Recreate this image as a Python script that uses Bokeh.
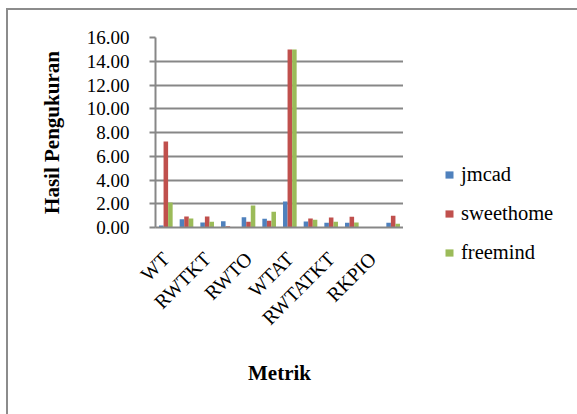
from bokeh.plotting import figure
from bokeh.layouts import row
from bokeh.models import (ColumnDataSource, FixedTicker, Legend, LegendItem,
                          NumeralTickFormatter, Range1d)
from bokeh.transform import dodge
from bokeh.embed import file_html
from bokeh.resources import INLINE

# Metric groups (12 positions; only every other one carries a visible label)
groups = [1, 2, 3, 4, 5, 6, 7, 8, 9, 10, 11, 12]
label_positions = [1, 3, 5, 7, 9, 11]
metric_labels = ["WT", "RWTKT", "RWTO", "WTAT", "RWTATKT", "RKPIO"]

series_names = ["jmcad", "sweethome", "freemind"]
jmcad = [0.17, 0.70, 0.42, 0.53, 0.87, 0.73, 2.19, 0.50, 0.39, 0.39, 0.0, 0.39]
sweethome = [7.25, 0.93, 0.93, 0.10, 0.48, 0.56, 15.0, 0.76, 0.84, 0.90, 0.0, 0.98]
freemind = [2.10, 0.76, 0.48, 0.0, 1.85, 1.32, 15.0, 0.65, 0.48, 0.42, 0.0, 0.31]
y_ticks = [0, 2, 4, 6, 8, 10, 12, 14, 16]

colors = ["#4F81BD", "#C0504D", "#9BBB59"]
FONT = "Liberation Serif"
GRID = "#878787"

# ---- main bar chart ----
p = figure(width=395, height=404, output_backend="svg", toolbar_location=None,
           x_range=Range1d(0.5, 12.5), y_range=Range1d(0, 16))
p.min_border_left = 147
p.min_border_right = 0
p.min_border_top = 27
p.min_border_bottom = 187
p.outline_line_color = None
p.background_fill_color = "white"
p.border_fill_color = "white"

bar_w = 0.22
source = ColumnDataSource(dict(x=groups, jmcad=jmcad, sweethome=sweethome, freemind=freemind))
for i, (name, col) in enumerate(zip(series_names, colors)):
    p.vbar(x=dodge("x", (i - 1) * bar_w), top=name, width=bar_w,
           source=source, fill_color=col, line_color=None)

# y axis
p.yaxis.ticker = FixedTicker(ticks=y_ticks)
p.yaxis.formatter = NumeralTickFormatter(format="0.00")
p.yaxis.major_label_text_font = FONT
p.yaxis.major_label_text_font_size = "19px"
p.yaxis.major_label_text_color = "black"
p.yaxis.major_label_standoff = 20
p.yaxis.major_tick_out = 6
p.yaxis.major_tick_in = 0
p.yaxis.major_tick_line_color = GRID
p.yaxis.major_tick_line_width = 2
p.yaxis.minor_tick_line_color = None
p.yaxis.axis_line_color = GRID
p.yaxis.axis_line_width = 2
p.yaxis.axis_label = "Hasil Pengukuran"
p.yaxis.axis_label_text_font = FONT
p.yaxis.axis_label_text_font_style = "bold"
p.yaxis.axis_label_text_font_size = "21px"
p.yaxis.axis_label_text_color = "black"
p.yaxis.axis_label_standoff = 20

# x axis
p.xaxis.ticker = FixedTicker(ticks=label_positions)
p.xaxis.major_label_overrides = {pos: lab for pos, lab in zip(label_positions, metric_labels)}
p.xaxis.major_label_orientation = 0.785398
p.xaxis.major_label_text_font = FONT
p.xaxis.major_label_text_font_size = "20px"
p.xaxis.major_label_text_color = "black"
p.xaxis.major_label_standoff = 22
p.xaxis.major_tick_line_color = None
p.xaxis.minor_tick_line_color = None
p.xaxis.axis_line_color = GRID
p.xaxis.axis_line_width = 2
p.xaxis.axis_label = "Metrik"
p.xaxis.axis_label_text_font = FONT
p.xaxis.axis_label_text_font_style = "bold"
p.xaxis.axis_label_text_font_size = "21px"
p.xaxis.axis_label_text_color = "black"
p.xaxis.axis_label_standoff = 21

p.xgrid.grid_line_color = None
p.ygrid.ticker = FixedTicker(ticks=y_ticks)
p.ygrid.grid_line_color = GRID
p.ygrid.grid_line_width = 2

# ---- legend panel to the right ----
lp = figure(width=174, height=404, output_backend="svg", toolbar_location=None,
            x_range=Range1d(0, 1), y_range=Range1d(0, 1),
            x_axis_type=None, y_axis_type=None)
lp.frame_align = False
lp.min_border = 0
lp.outline_line_color = None
lp.xgrid.grid_line_color = None
lp.ygrid.grid_line_color = None
nan = float("nan")
keys = [lp.vbar(x=[nan], top=[nan], width=0.1, fill_color=col, line_color=None) for col in colors]

legend = Legend(items=[LegendItem(label=n, renderers=[r]) for n, r in zip(series_names, keys)],
                location=(41, 150))
legend.label_text_font = FONT
legend.label_text_font_size = "20.5px"
legend.label_text_color = "black"
legend.glyph_width = 10
legend.glyph_height = 9
legend.label_standoff = 7
legend.spacing = 16
legend.border_line_color = None
legend.background_fill_alpha = 0
lp.add_layout(legend, "center")

# outer chart border on the top and left edges
layout = row(p, lp, margin=(8, 0, 0, 6),
             styles={"border-top": "2px solid #8C8C8C", "border-left": "2px solid #8C8C8C"})

open("out.html", "w").write(file_html(layout, INLINE))
